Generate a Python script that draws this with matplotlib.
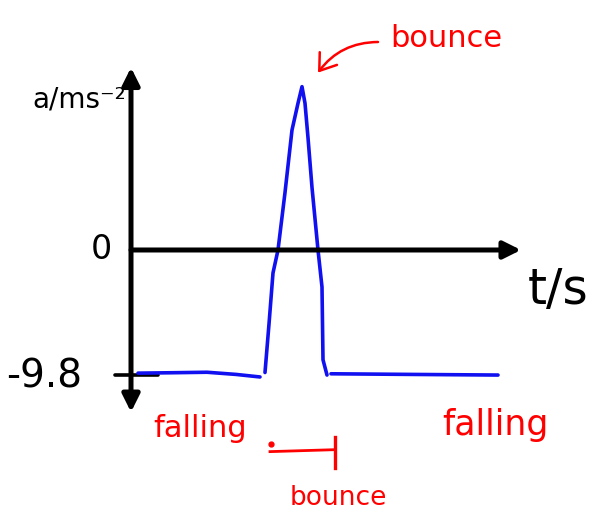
import matplotlib
matplotlib.use("Agg")
import matplotlib.pyplot as plt

# acceleration of a falling ball that bounces once (t in s, a in m/s^2)
fall1_t = [0.07, 0.40, 0.76, 1.05, 1.29]
fall1_a = [-9.65, -9.62, -9.58, -9.75, -9.95]

bounce_t = [1.34, 1.38, 1.42, 1.47, 1.54, 1.61, 1.67, 1.71, 1.74, 1.77, 1.81, 1.87, 1.91, 1.92, 1.96]
bounce_a = [-9.6, -5.8, -1.8, 0.0, 4.5, 9.4, 11.5, 12.8, 11.5, 8.8, 4.9, 0.0, -2.9, -8.6, -9.8]

fall2_t = [2.00, 2.80, 3.67]
fall2_a = [-9.7, -9.75, -9.8]

g = -9.8
t_end = 3.90
a_top, a_bottom = 14.3, -12.7

fig = plt.figure(figsize=(5.97, 5.19), dpi=100)
ax = fig.add_axes([0, 0, 1, 1])
ax.set_xlim(-1.31, 4.66)
ax.set_ylim(-21.08, 19.59)
ax.axis("off")

# hand drawn axes
ax.annotate("", xy=(0, a_top), xytext=(0, a_bottom),
            arrowprops=dict(arrowstyle="<|-|>", lw=3.6, color="black",
                            mutation_scale=26, shrinkA=0, shrinkB=0))
ax.annotate("", xy=(t_end, 0), xytext=(0, 0),
            arrowprops=dict(arrowstyle="-|>", lw=3.6, color="black",
                            mutation_scale=26, shrinkA=0, shrinkB=0))
ax.plot([-0.16, 0.27], [g, g], color="black", lw=2.6, solid_capstyle="round")

ax.text(-0.19, 0, "0", fontsize=24, ha="right", va="center")
ax.text(-0.49, g - 0.1, "-9.8", fontsize=28, ha="right", va="center")
ax.text(-0.05, 11.8, "a/ms⁻²", fontsize=20, ha="right", va="center")
ax.text(3.97, -3.1, "t/s", fontsize=35, ha="left", va="center")

# the curve
blue = "#1010f0"
ax.plot(fall1_t, fall1_a, color=blue, lw=2.6, solid_capstyle="round")
ax.plot(bounce_t, bounce_a, color=blue, lw=2.6, solid_capstyle="round",
        solid_joinstyle="round")
ax.plot(fall2_t, fall2_a, color=blue, lw=2.6, solid_capstyle="round")

# notes
red = "#ff0000"
ax.text(3.15, 16.6, "bounce", color=red, fontsize=22, ha="center", va="center")
ax.annotate("", xy=(1.87, 13.9), xytext=(2.47, 16.3),
            arrowprops=dict(arrowstyle="->,head_length=0.5,head_width=0.35",
                            lw=1.8, color=red, mutation_scale=22,
                            connectionstyle="arc3,rad=0.25",
                            shrinkA=0, shrinkB=0))
ax.text(0.69, -14.0, "falling", color=red, fontsize=22, ha="center", va="center")
ax.text(3.64, -13.7, "falling", color=red, fontsize=25, ha="center", va="center")
ax.text(2.07, -19.4, "bounce", color=red, fontsize=19, ha="center", va="center")

ax.plot([1.40], [-15.2], "o", color=red, ms=3.5)
ax.plot([1.39, 2.03], [-15.8, -15.65], color=red, lw=2)
ax.plot([2.04, 2.04], [-14.65, -17.1], color=red, lw=2.4)

fig.savefig("out.png", dpi=100)
